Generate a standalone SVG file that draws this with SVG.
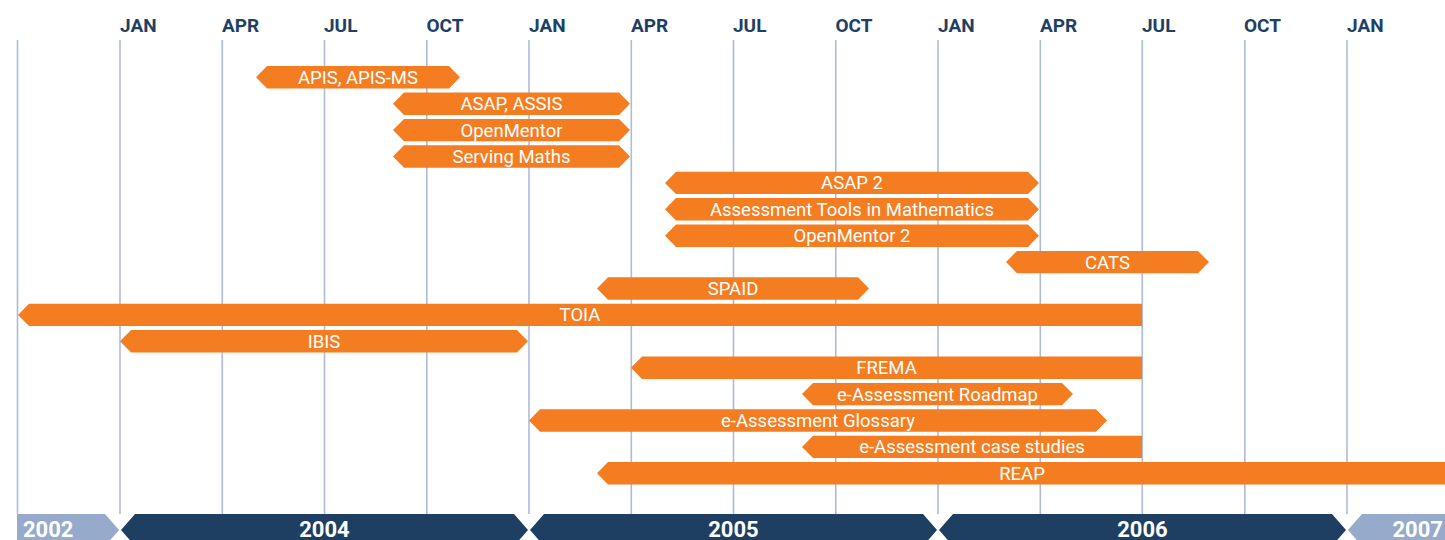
<svg xmlns="http://www.w3.org/2000/svg" width="1445" height="540" viewBox="0 0 1445 540">
<style>
.grid line{stroke:#abbbd8;stroke-width:1.6}
.mon{font-family:Roboto,"Liberation Sans",sans-serif;font-weight:700;font-size:19px;fill:#1f3f63}
.bar polygon{fill:#f47d22}
.bar text{font-family:Roboto,"Liberation Sans",sans-serif;font-size:18.5px;fill:#ffffff;text-anchor:middle}
.yr{font-family:Roboto,"Liberation Sans",sans-serif;font-weight:700;font-size:22px;fill:#ffffff}
.dark{fill:#1e3f62}
.light{fill:#96aacb}
</style>
<rect width="1445" height="540" fill="#ffffff"/>
<g class="grid" id="grid">
<line x1="17.5" y1="40" x2="17.5" y2="514"/>
<line x1="120" y1="40" x2="120" y2="514"/>
<line x1="222.3" y1="40" x2="222.3" y2="514"/>
<line x1="324.5" y1="40" x2="324.5" y2="514"/>
<line x1="426.8" y1="40" x2="426.8" y2="514"/>
<line x1="529" y1="40" x2="529" y2="514"/>
<line x1="631.3" y1="40" x2="631.3" y2="514"/>
<line x1="733.5" y1="40" x2="733.5" y2="514"/>
<line x1="835.8" y1="40" x2="835.8" y2="514"/>
<line x1="938" y1="40" x2="938" y2="514"/>
<line x1="1040.3" y1="40" x2="1040.3" y2="514"/>
<line x1="1142.3" y1="40" x2="1142.3" y2="514"/>
<line x1="1244.8" y1="40" x2="1244.8" y2="514"/>
<line x1="1347" y1="40" x2="1347" y2="514"/>
</g>
<g id="months" class="mon">
<text x="120" y="31.5">JAN</text>
<text x="222" y="31.5">APR</text>
<text x="324" y="31.5">JUL</text>
<text x="426.5" y="31.5">OCT</text>
<text x="529" y="31.5">JAN</text>
<text x="631" y="31.5">APR</text>
<text x="733" y="31.5">JUL</text>
<text x="835.5" y="31.5">OCT</text>
<text x="938" y="31.5">JAN</text>
<text x="1040" y="31.5">APR</text>
<text x="1142" y="31.5">JUL</text>
<text x="1244" y="31.5">OCT</text>
<text x="1347" y="31.5">JAN</text>
</g>
<g id="connectors"></g>
<g id="bar-apis" class="bar"><polygon points="256,77.3 267,66.1 449,66.1 460,77.3 449,88.5 267,88.5"/><text x="358" y="83.8">APIS, APIS-MS</text></g>
<g id="bar-asap" class="bar"><polygon points="393,103.7 404,92.5 619,92.5 630,103.7 619,114.9 404,114.9"/><text x="511.5" y="110.2">ASAP, ASSIS</text></g>
<g id="bar-openmentor" class="bar"><polygon points="393,130.1 404,118.9 619,118.9 630,130.1 619,141.3 404,141.3"/><text x="511.5" y="136.6">OpenMentor</text></g>
<g id="bar-serving-maths" class="bar"><polygon points="393,156.5 404,145.3 619,145.3 630,156.5 619,167.7 404,167.7"/><text x="511.5" y="163">Serving Maths</text></g>
<g id="bar-asap2" class="bar"><polygon points="665,182.9 676,171.7 1028,171.7 1039,182.9 1028,194.1 676,194.1"/><text x="852" y="189.4">ASAP 2</text></g>
<g id="bar-atm" class="bar"><polygon points="665,209.3 676,198.1 1028,198.1 1039,209.3 1028,220.5 676,220.5"/><text x="852" y="215.8">Assessment Tools in Mathematics</text></g>
<g id="bar-openmentor2" class="bar"><polygon points="665,235.7 676,224.5 1028,224.5 1039,235.7 1028,246.9 676,246.9"/><text x="852" y="242.2">OpenMentor 2</text></g>
<g id="bar-cats" class="bar"><polygon points="1006,262.1 1017,250.9 1198,250.9 1209,262.1 1198,273.3 1017,273.3"/><text x="1107.5" y="268.6">CATS</text></g>
<g id="bar-spaid" class="bar"><polygon points="597,288.5 608,277.3 858,277.3 869,288.5 858,299.7 608,299.7"/><text x="733" y="295">SPAID</text></g>
<g id="bar-toia" class="bar"><polygon points="18,314.9 29,303.7 1142,303.7 1142,326.1 29,326.1"/><text x="580" y="321.4">TOIA</text></g>
<g id="bar-ibis" class="bar"><polygon points="120,341.3 131,330.1 517,330.1 528,341.3 517,352.5 131,352.5"/><text x="324" y="347.8">IBIS</text></g>
<g id="bar-frema" class="bar"><polygon points="631,367.7 642,356.5 1142,356.5 1142,378.9 642,378.9"/><text x="886.5" y="374.2">FREMA</text></g>
<g id="bar-roadmap" class="bar"><polygon points="802,394.1 813,382.9 1062,382.9 1073,394.1 1062,405.3 813,405.3"/><text x="937.5" y="400.6">e-Assessment Roadmap</text></g>
<g id="bar-glossary" class="bar"><polygon points="529,420.5 540,409.3 1096,409.3 1107,420.5 1096,431.7 540,431.7"/><text x="818" y="427">e-Assessment Glossary</text></g>
<g id="bar-case-studies" class="bar"><polygon points="802,446.9 813,435.7 1142,435.7 1142,458.1 813,458.1"/><text x="972" y="453.4">e-Assessment case studies</text></g>
<g id="bar-reap" class="bar"><polygon points="597,473.3 608,462.1 1450,462.1 1450,484.5 608,484.5"/><text x="1022" y="479.8">REAP</text></g>
<g id="year-2002"><polygon class="light" points="17,514 105,514 119,530 105,546 17,546"/><text class="yr" x="23" y="537">2002</text></g>
<g id="year-2004"><polygon class="dark" points="121,530 135,514 514,514 528,530 514,546 135,546"/><text class="yr" x="324.5" y="537" text-anchor="middle">2004</text></g>
<g id="year-2005"><polygon class="dark" points="530,530 544,514 923,514 937,530 923,546 544,546"/><text class="yr" x="733.5" y="537" text-anchor="middle">2005</text></g>
<g id="year-2006"><polygon class="dark" points="939,530 953,514 1332,514 1346,530 1332,546 953,546"/><text class="yr" x="1142.5" y="537" text-anchor="middle">2006</text></g>
<g id="year-2007"><polygon class="light" points="1348,530 1362,514 1450,514 1450,546 1362,546"/><text class="yr" x="1443" y="537" text-anchor="end">2007</text></g>
</svg>
